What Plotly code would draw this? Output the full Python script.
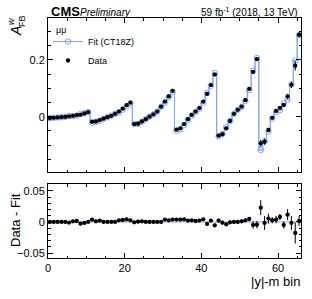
import numpy as np
import plotly.graph_objects as go

# ---- data ----
n_bins = 66
data = [
    -0.005, -0.004, -0.003, -0.002, -0.001, 0.001, 0.003, 0.005, 0.007, 0.011, 0.016,
    -0.018, -0.017, -0.012, -0.007, -0.002, 0.003, 0.010, 0.018, 0.028, 0.040, 0.049,
    -0.026, -0.025, -0.017, -0.009, 0.000, 0.008, 0.018, 0.035, 0.053, 0.071, 0.091,
    -0.046, -0.041, -0.026, -0.009, 0.006, 0.018, 0.030, 0.053, 0.080, 0.111, 0.148,
    -0.067, -0.062, -0.041, -0.015, 0.010, 0.024, 0.035, 0.058, 0.098, 0.157, 0.202,
    -0.094, -0.088, -0.047, -0.004, 0.020, 0.031, 0.041, 0.071, 0.112, 0.179, 0.288,
]
data_minus_fit = [
    0.000, 0.000, 0.000, 0.000, 0.000, -0.001, 0.001, 0.0016, -0.0027, -0.0016, 0.000,
    0.0038, 0.001, 0.0022, 0.000, 0.000, 0.000, 0.000, 0.0027, 0.0032, 0.0043, 0.0027,
    -0.0005, 0.0005, 0.001, 0.000, 0.000, 0.000, 0.000, 0.000, 0.0038, 0.0027, 0.0038,
    0.0038, 0.0038, 0.0043, 0.0022, 0.0027, 0.0016, 0.0022, 0.0043, -0.0032, 0.0022,
    -0.0054, 0.0022, -0.0011, -0.0038, -0.0005, 0.000, 0.000, 0.0011, 0.0027, 0.0048,
    -0.0048, -0.0043, 0.023, -0.0016, 0.0054, 0.0027, 0.0038, 0.0081, -0.0048, 0.0118,
    -0.0016, -0.0177, 0.0016,
]
data_err = [0.0012] * 41 + [0.003] * 12 + [0.006, 0.006,
            0.012, 0.011, 0.008, 0.005, 0.006, 0.005, 0.006, 0.009, 0.011, 0.017, 0.008]

x_ticks = [0, 20, 40, 60]

# ---- derived ----
centers = np.arange(n_bins) + 0.5
edges = np.arange(n_bins + 1)
data = np.array(data)
resid = np.array(data_minus_fit)
fit = data - resid
fit_steps = np.append(fit, fit[-1])
zero_steps = np.append(fit - fit, 0.0)

FITC = "#7ba6f7"
FONT = "Liberation Sans, Arial, Helvetica, sans-serif"

fig = go.Figure()
# top panel
fig.add_trace(go.Scatter(x=edges, y=fit_steps, mode="lines", line=dict(shape="hv", color=FITC, width=1),
                         showlegend=False, hoverinfo="skip", xaxis="x", yaxis="y"))
fig.add_trace(go.Scatter(x=centers, y=fit, mode="lines+markers", name="Fit (CT18Z)",
                         line=dict(shape="hvh", color=FITC, width=1),
                         marker=dict(symbol="circle-open", size=5.5, color=FITC, line=dict(width=1)),
                         xaxis="x", yaxis="y"))
fig.add_trace(go.Scatter(x=centers, y=data, mode="markers", name="Data",
                         marker=dict(size=4.3, color="black"),
                         error_y=dict(type="data", array=data_err, color="black", thickness=1, width=0),
                         xaxis="x", yaxis="y"))
# bottom panel
fig.add_trace(go.Scatter(x=edges, y=zero_steps, mode="lines", line=dict(shape="hv", color=FITC, width=1),
                         showlegend=False, hoverinfo="skip", xaxis="x2", yaxis="y2"))
fig.add_trace(go.Scatter(x=centers, y=resid, mode="markers", showlegend=False,
                         marker=dict(size=4.3, color="black"),
                         error_y=dict(type="data", array=data_err, color="black", thickness=1, width=0),
                         xaxis="x2", yaxis="y2"))

axis_common = dict(showgrid=False, zeroline=False, showline=True, linecolor="black", linewidth=1,
                   mirror="ticks", ticks="inside", tickcolor="black", tickwidth=1, automargin=False,
                   tickfont=dict(family=FONT, size=11, color="black"))

fig.update_layout(
    width=312, height=299,
    margin=dict(l=48, r=11, t=18, b=41, autoexpand=False),
    paper_bgcolor="white", plot_bgcolor="white",
    font=dict(family=FONT, color="black"),
    xaxis=dict(domain=[0, 1], range=[0, 66], anchor="y", showticklabels=False,
               tickvals=x_ticks, ticklen=5,
               minor=dict(dtick=5, tick0=0, ticklen=2.5, ticks="inside", tickcolor="black"),
               **axis_common),
    yaxis=dict(domain=[0.358, 1], range=[-0.195, 0.347], anchor="x", tick0=0, dtick=0.2, ticklen=5,
               minor=dict(dtick=0.05, tick0=0, ticklen=2.5, ticks="inside", tickcolor="black"),
               **axis_common),
    xaxis2=dict(domain=[0, 1], range=[0, 66], anchor="y2", matches="x", tickvals=x_ticks, ticklen=5,
                minor=dict(dtick=5, tick0=0, ticklen=2.5, ticks="inside", tickcolor="black"),
                **axis_common),
    yaxis2=dict(domain=[0, 0.308], range=[-0.058, 0.061], anchor="x2", tick0=0, dtick=0.05, ticklen=5,
                minor=dict(dtick=0.01, tick0=0, ticklen=2.5, ticks="inside", tickcolor="black"),
                **axis_common),
    legend=dict(x=0.0, y=(258 - 27) / 240.0, xanchor="left", yanchor="top", bgcolor="rgba(0,0,0,0)",
                font=dict(family=FONT, size=9), tracegroupgap=0, itemwidth=30),
    showlegend=True,
)

def px(xp):
    return (xp - 48) / 253.0

def py(yp):
    return (258 - yp) / 240.0

ann = [
    dict(text="<b>CMS</b>", x=px(49), y=py(11), xanchor="left", yanchor="middle",
         font=dict(family=FONT, size=13)),
    dict(text="<i>Preliminary</i>", x=px(78), y=py(12), xanchor="left", yanchor="middle",
         font=dict(family=FONT, size=10)),
    dict(text="59 fb<sup>-1</sup> (2018, 13 TeV)", x=px(300), y=py(12), xanchor="right", yanchor="middle",
         font=dict(family=FONT, size=10)),
    dict(text="μμ", x=px(54), y=py(30), xanchor="left", yanchor="middle",
         font=dict(family=FONT, size=9)),
    dict(text="|y|-m bin", x=px(302), y=py(281), xanchor="right", yanchor="middle",
         font=dict(family=FONT, size=13)),
    dict(text="Data - Fit", x=px(15), y=py(220), xanchor="center", yanchor="middle", textangle=-90,
         font=dict(family=FONT, size=13)),
    dict(text="<i>A</i>", x=px(16), y=py(31), xanchor="center", yanchor="middle", textangle=-90,
         font=dict(family=FONT, size=14)),
    dict(text="<i>w</i>", x=px(11), y=py(22), xanchor="center", yanchor="middle", textangle=-90,
         font=dict(family=FONT, size=9)),
    dict(text="FB", x=px(22), y=py(21), xanchor="center", yanchor="middle", textangle=-90,
         font=dict(family=FONT, size=9)),
]
for a in ann:
    a.update(xref="paper", yref="paper", showarrow=False)
fig.update_layout(annotations=ann)

fig.write_html("out.html", config={"displayModeBar": False},
               post_script="document.body.style.margin='0px';document.body.style.overflow='hidden';")
